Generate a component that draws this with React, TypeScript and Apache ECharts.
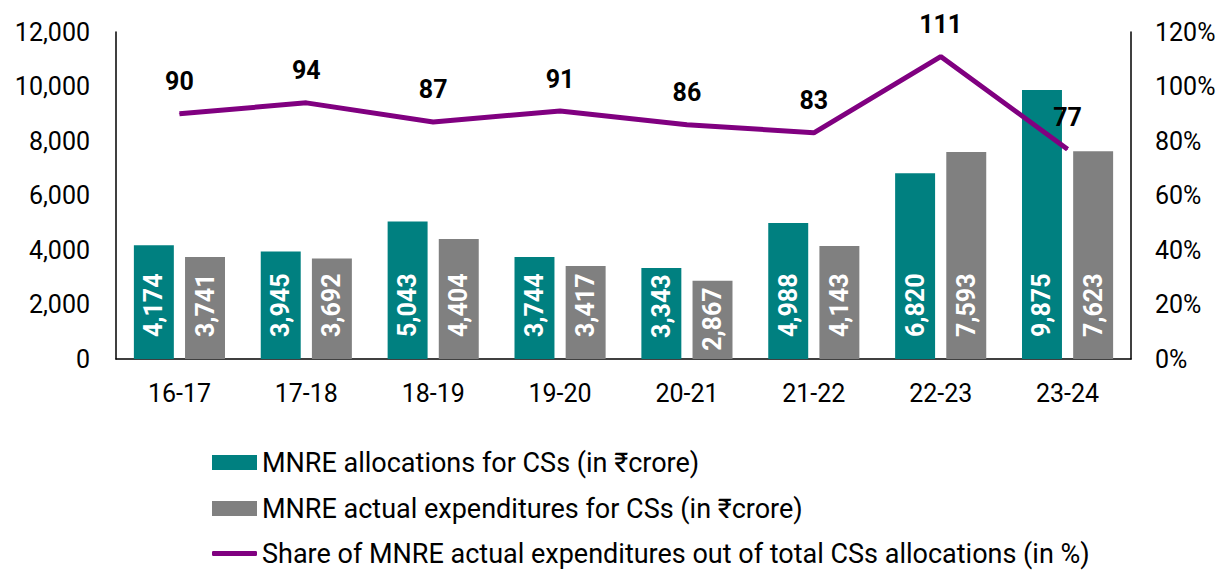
import React, { useEffect, useRef } from "react";
import * as echarts from "echarts";

const categories = ["16-17", "17-18", "18-19", "19-20", "20-21", "21-22", "22-23", "23-24"];
const allocations = [4174, 3945, 5043, 3744, 3343, 4988, 6820, 9875];
const expenditures = [3741, 3692, 4404, 3417, 2867, 4143, 7593, 7623];
const sharePct = [90, 94, 87, 91, 86, 83, 111, 77];

const seriesNames = [
  "MNRE allocations for CSs (in ₹crore)",
  "MNRE actual expenditures for CSs (in ₹crore)",
  "Share of MNRE actual expenditures out of total CSs allocations (in %)",
];

const FONT = "Roboto, 'Noto Sans', sans-serif";
const FS = 25;
const LFS = 27;
const PLOT_H = 327;
const Y_MAX = 12000;
const LABEL_LEN = 63;

function barData(values: number[]) {
  return values.map((v) => {
    const h = (v / Y_MAX) * PLOT_H;
    const d = Math.max(6, Math.min(22, h - LABEL_LEN - 7));
    return { value: v, label: { distance: d } };
  });
}

export default function App() {
  const ref = useRef<HTMLDivElement>(null);
  useEffect(() => {
    if (!ref.current) return;
    const chart = echarts.init(ref.current, null, { renderer: "svg" });
    const barLabel = {
      show: true,
      position: "insideBottom",
      rotate: 90,
      align: "left",
      verticalAlign: "middle",
      distance: 22,
      color: "#fff",
      fontWeight: "bold",
      fontSize: FS,
      fontFamily: FONT,
      formatter: (p: any) => Number(p.value).toLocaleString("en-US"),
    };
    const legendBase = {
      orient: "horizontal",
      left: 212,
      padding: 0,
      itemWidth: 45,
      itemHeight: 15,
      textStyle: { fontSize: LFS, color: "#000", fontFamily: FONT },
    };
    chart.setOption({
      animation: false,
      textStyle: { fontFamily: FONT },
      grid: { left: 116, right: 91, top: 32, bottom: 211 },
      legend: [
        { ...legendBase, top: 449, data: [{ name: seriesNames[0], icon: "rect" }] },
        { ...legendBase, top: 495, data: [{ name: seriesNames[1], icon: "rect" }] },
        {
          ...legendBase,
          top: 540,
          itemHeight: 5,
          data: [{ name: seriesNames[2], icon: "roundRect" }],
        },
      ],
      xAxis: {
        type: "category",
        data: categories,
        axisLine: { lineStyle: { color: "#000", width: 1.5 } },
        axisTick: { show: false },
        axisLabel: { color: "#000", fontSize: FS, margin: 22, fontFamily: FONT },
      },
      yAxis: [
        {
          type: "value",
          min: 0,
          max: Y_MAX,
          interval: 2000,
          axisLine: { show: true, lineStyle: { color: "#000", width: 1.5 } },
          axisTick: { show: false },
          splitLine: { show: false },
          axisLabel: {
            color: "#000",
            fontSize: FS,
            margin: 26,
            fontFamily: FONT,
            formatter: (v: number) => v.toLocaleString("en-US"),
          },
        },
        {
          type: "value",
          min: 0,
          max: 120,
          interval: 20,
          position: "right",
          axisLine: { show: true, lineStyle: { color: "#000", width: 1.5 } },
          axisTick: { show: false },
          splitLine: { show: false },
          axisLabel: { color: "#000", fontSize: FS, margin: 24, fontFamily: FONT, formatter: "{value}%" },
        },
      ],
      series: [
        {
          name: seriesNames[0],
          type: "bar",
          data: barData(allocations),
          barWidth: "31.5%",
          barGap: "28%",
          itemStyle: { color: "#008080" },
          label: barLabel,
        },
        {
          name: seriesNames[1],
          type: "bar",
          data: barData(expenditures),
          barWidth: "31.5%",
          itemStyle: { color: "#808080" },
          label: barLabel,
        },
        {
          name: seriesNames[2],
          type: "line",
          yAxisIndex: 1,
          data: sharePct,
          symbol: "circle",
          symbolSize: 1,
          showSymbol: true,
          lineStyle: { color: "#800080", width: 5 },
          itemStyle: { color: "#800080" },
          label: {
            show: true,
            position: "top",
            distance: 19,
            color: "#000",
            fontWeight: "bold",
            fontSize: FS,
            fontFamily: FONT,
          },
        },
      ],
    });
    return () => chart.dispose();
  }, []);
  return (
    <div
      ref={ref}
      style={{ position: "fixed", left: 0, top: 0, width: "1222px", height: "570px", background: "#fff" }}
    />
  );
}
